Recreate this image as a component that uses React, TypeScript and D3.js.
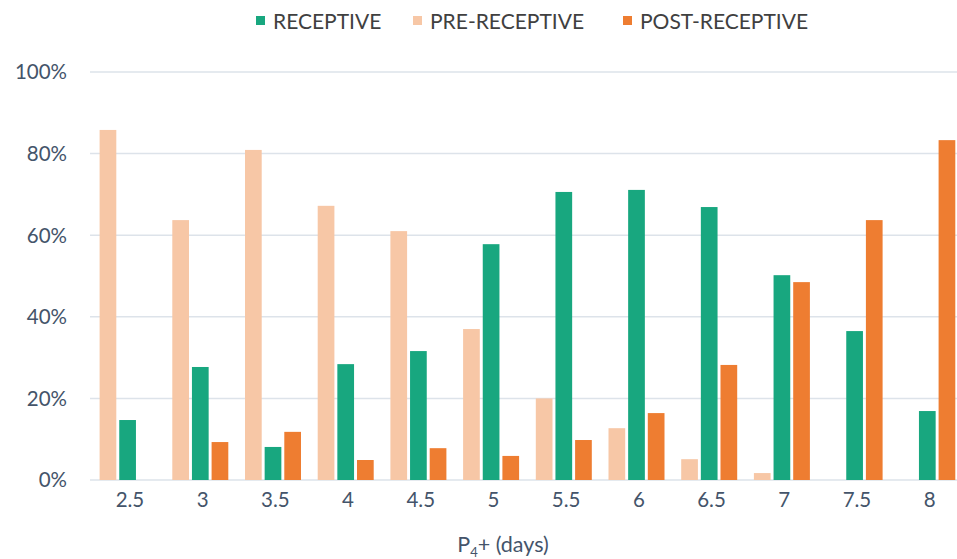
import * as d3 from 'd3'
import React from 'react'

const days = ['2.5', '3', '3.5', '4', '4.5', '5', '5.5', '6', '6.5', '7', '7.5', '8']
const receptive = [14.7, 27.7, 8.1, 28.4, 31.6, 57.8, 70.6, 71.1, 66.9, 50.2, 36.5, 16.9]
const preReceptive = [85.8, 63.7, 80.9, 67.2, 61, 37, 20, 12.7, 5.1, 1.7, 0, 0]
const postReceptive = [0, 9.3, 11.8, 4.9, 7.8, 5.9, 9.8, 16.4, 28.2, 48.5, 63.7, 83.3]
const yTicks = [0, 20, 40, 60, 80, 100]

const legend = [
  { name: 'RECEPTIVE', color: '#18a77f' },
  { name: 'PRE-RECEPTIVE', color: '#f7c7a6' },
  { name: 'POST-RECEPTIVE', color: '#ee7d31' },
]
const barOrder = [
  { key: 'pre', values: preReceptive, color: '#f7c7a6' },
  { key: 'rec', values: receptive, color: '#18a77f' },
  { key: 'post', values: postReceptive, color: '#ee7d31' },
]
const legendX = [256, 413, 623]

const W = 957, H = 559
const font = 'Lato, "Open Sans", sans-serif'
const textColor = '#44546a'

export default function App() {
  const
    x = d3.scaleBand<string>().domain(days).range([93.6, 93.6 + 72.7 * days.length]),
    inner = d3.scaleBand<string>().domain(barOrder.map(b => b.key)).range([6, 62]).paddingInner(0.15),
    y = d3.scaleLinear().domain([0, 100]).range([480, 72])

  return (
    <svg width={W} height={H} style={{ position: 'absolute', left: 0, top: 0, background: '#fff' }} fontFamily={font}>
      {yTicks.map(t => (
        <g key={t}>
          <line x1={90} x2={W} y1={y(t)} y2={y(t)} stroke='#dde3ea' strokeWidth={1.5} />
          <text x={67} y={y(t)} dy='0.36em' textAnchor='end' fontSize={20.5} fill={textColor}>{t}%</text>
        </g>
      ))}
      {days.map((d, i) => (
        <g key={d} transform={`translate(${x(d)},0)`}>
          {barOrder.map(b => b.values[i] > 0 && (
            <rect key={b.key} x={inner(b.key)} width={inner.bandwidth()} y={y(b.values[i])}
              height={y(0) - y(b.values[i])} fill={b.color} />
          ))}
          <text x={x.bandwidth() / 2} y={507} textAnchor='middle' fontSize={20.5} fill={textColor}>{d}</text>
        </g>
      ))}
      <text x={503} y={552} textAnchor='middle' fontSize={21.5} fill={textColor}>
        P<tspan fontSize={13} dy={5}>4</tspan><tspan dy={-5}>+ (days)</tspan>
      </text>
      {legend.map((l, i) => (
        <g key={l.name} transform={`translate(${legendX[i]},0)`}>
          <rect x={0} y={16} width={9} height={9} fill={l.color} />
          <text x={17} y={29} fontSize={21} fill='#404040'>{l.name}</text>
        </g>
      ))}
    </svg>
  )
}
